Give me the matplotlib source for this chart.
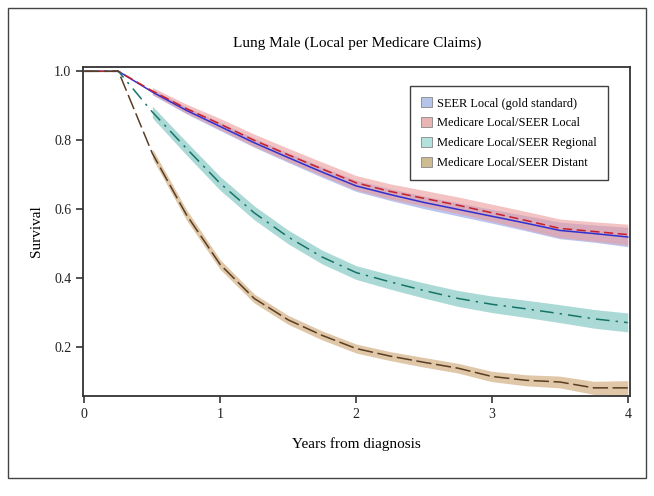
"""
Lung Male survival curves, local stage per Medicare claims.
"""
import matplotlib
matplotlib.use("Agg")
import matplotlib.pyplot as plt
from matplotlib.patches import Patch, Rectangle

plt.rcParams['font.family'] = ['Liberation Serif', 'DejaVu Serif']

# Years from diagnosis (quarterly)
times = [0, 0.25, 0.5, 0.75, 1.0, 1.25, 1.5, 1.75, 2.0, 2.25, 2.5, 2.75, 3.0, 3.25, 3.5, 3.75, 4.0]
# confidence bands start at half a year
band_times = times[2:]

local = [1.0, 1.0, 0.940, 0.887, 0.840, 0.793, 0.750, 0.708, 0.668, 0.643, 0.620, 0.600, 0.580, 0.560, 0.539, 0.530, 0.520]
local_lo = [0.932, 0.877, 0.828, 0.780, 0.736, 0.693, 0.652, 0.626, 0.602, 0.581, 0.560, 0.538, 0.515, 0.505, 0.492]
local_hi = [0.948, 0.897, 0.852, 0.806, 0.764, 0.723, 0.684, 0.660, 0.638, 0.619, 0.600, 0.582, 0.563, 0.555, 0.548]

medloc = [1.0, 1.0, 0.943, 0.892, 0.847, 0.800, 0.758, 0.717, 0.677, 0.652, 0.632, 0.612, 0.590, 0.568, 0.545, 0.536, 0.527]
medloc_lo = [0.933, 0.879, 0.831, 0.782, 0.739, 0.697, 0.656, 0.630, 0.609, 0.588, 0.565, 0.542, 0.518, 0.508, 0.497]
medloc_hi = [0.953, 0.905, 0.863, 0.818, 0.777, 0.737, 0.698, 0.674, 0.655, 0.636, 0.615, 0.594, 0.572, 0.564, 0.557]

regional = [1.0, 1.0, 0.882, 0.777, 0.675, 0.590, 0.520, 0.462, 0.417, 0.390, 0.365, 0.342, 0.325, 0.312, 0.298, 0.283, 0.272]
regional_lo = [0.865, 0.758, 0.655, 0.570, 0.500, 0.442, 0.397, 0.369, 0.343, 0.319, 0.301, 0.287, 0.272, 0.256, 0.245]
regional_hi = [0.899, 0.796, 0.695, 0.610, 0.540, 0.482, 0.437, 0.411, 0.387, 0.365, 0.349, 0.337, 0.324, 0.310, 0.300]

distant = [1.0, 1.0, 0.762, 0.585, 0.440, 0.342, 0.280, 0.235, 0.197, 0.175, 0.157, 0.140, 0.116, 0.105, 0.100, 0.083, 0.083]
distant_lo = [0.748, 0.570, 0.426, 0.329, 0.267, 0.222, 0.184, 0.162, 0.143, 0.126, 0.101, 0.089, 0.083, 0.064, 0.062]
distant_hi = [0.776, 0.600, 0.454, 0.355, 0.293, 0.248, 0.210, 0.188, 0.171, 0.154, 0.131, 0.121, 0.117, 0.102, 0.104]

labels = ['SEER Local (gold standard)', 'Medicare Local/SEER Local',
          'Medicare Local/SEER Regional', 'Medicare Local/SEER Distant']

fig = plt.figure(figsize=(6.54, 4.96), dpi=100)
ax = fig.add_axes([0.127, 0.202, 0.836, 0.663])

# Bands first, lines on top
ax.fill_between(band_times, local_lo, local_hi, color='#a9b6ec', alpha=0.8, lw=0)
ax.fill_between(band_times, medloc_lo, medloc_hi, color='#eb9a9a', alpha=0.6, lw=0)
ax.fill_between(band_times, regional_lo, regional_hi, color='#9dd3cf', alpha=0.85, lw=0)
ax.fill_between(band_times, distant_lo, distant_hi, color='#dcc19f', alpha=0.9, lw=0)

ax.plot(times, local, color='#3030d0', lw=1.1, ls='-')
ax.plot(times, medloc, color='#c8202a', lw=1.1, ls=(0, (6, 3)))
ax.plot(times, regional, color='#177468', lw=1.1, ls=(0, (9, 4, 1.5, 4)))
ax.plot(times, distant, color='#5a3d22', lw=1.1, ls=(0, (10, 3)))

ax.set_xlim(-0.01, 4.015)
ax.set_ylim(0.06, 1.0125)
ax.set_xticks([0, 1, 2, 3, 4])
ax.set_yticks([0.2, 0.4, 0.6, 0.8, 1.0])
ax.set_yticklabels(['0.2', '0.4', '0.6', '0.8', '1.0'])
ax.tick_params(direction='out', length=5, width=1.2, colors='#333333', labelsize=10, labelcolor='#222222')
for sp in ax.spines.values():
    sp.set_color('#333333')
    sp.set_linewidth(1.3)

ax.set_xlabel('Years from diagnosis', fontsize=11, labelpad=12)
ax.set_ylabel('Survival', fontsize=11, labelpad=8)
fig.text(0.546, 0.913, 'Lung Male (Local per Medicare Claims)', fontsize=11, ha='center', va='center')

handles = [Patch(facecolor='#b5c5ea', edgecolor='#888888', lw=0.6),
           Patch(facecolor='#e8b4b4', edgecolor='#888888', lw=0.6),
           Patch(facecolor='#b3e2dc', edgecolor='#888888', lw=0.6),
           Patch(facecolor='#cdbb92', edgecolor='#888888', lw=0.6)]
leg = ax.legend(handles, labels, loc='upper right', bbox_to_anchor=(0.96, 0.942),
                fontsize=8.9, frameon=True, fancybox=False, borderpad=0.9,
                labelspacing=0.6, handlelength=0.9, handleheight=0.9,
                handletextpad=0.4, borderaxespad=0)
leg.get_frame().set_edgecolor('#111111')
leg.get_frame().set_linewidth(1.0)

# outer frame around the whole figure
fig.patches.append(Rectangle((0.012, 0.036), 0.976, 0.948, transform=fig.transFigure,
                             fill=False, edgecolor='#444444', lw=1.0))

fig.savefig('out.png', dpi=100)
